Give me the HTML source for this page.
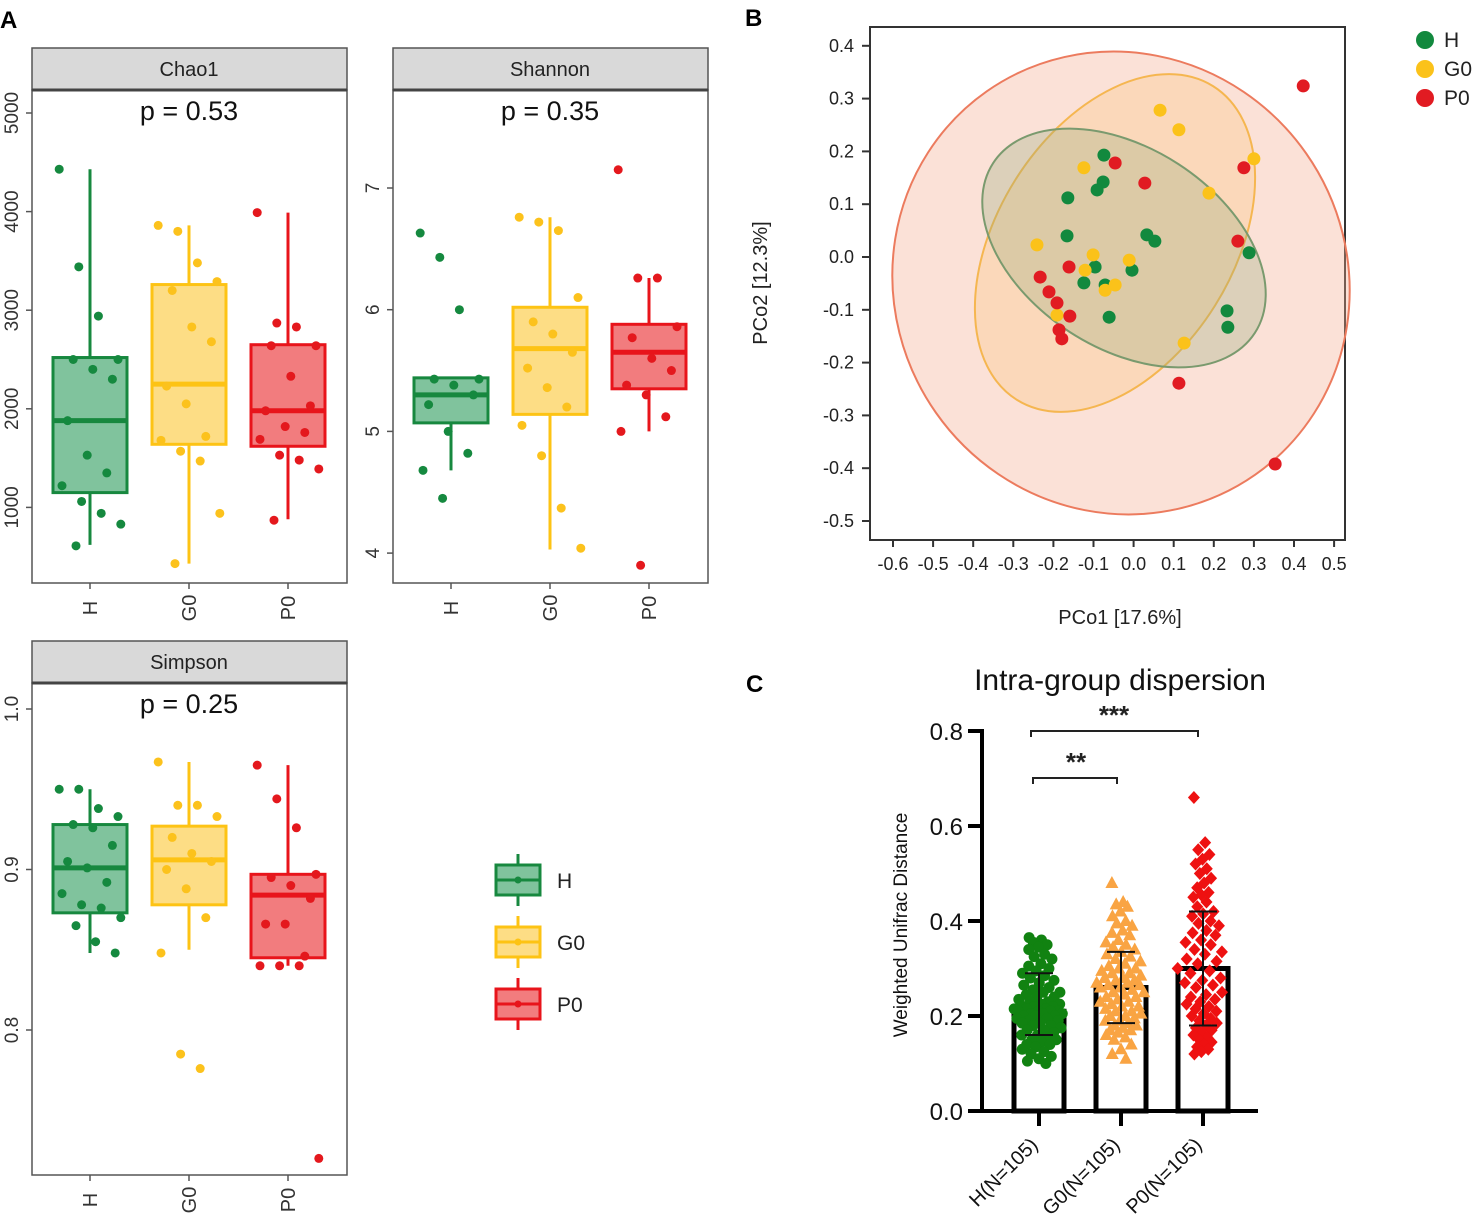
<!DOCTYPE html>
<html><head><meta charset="utf-8">
<style>
html,body{margin:0;padding:0;background:#fff;}
svg{display:block;font-family:"Liberation Sans",Arial,sans-serif;}
</style></head>
<body>
<svg id="fig" width="1476" height="1217" viewBox="0 0 1476 1217" xmlns="http://www.w3.org/2000/svg">
<text x="0" y="28" font-size="24" font-weight="bold">A</text>
<text x="745" y="26" font-size="24" font-weight="bold">B</text>
<text x="746" y="692" font-size="24" font-weight="bold">C</text>
<g id="gA"></g>
<g id="gB"></g>
<g id="gC"></g>
</svg>
<script>
const NS='http://www.w3.org/2000/svg';
function mk(p,t,a,txt){const e=document.createElementNS(NS,t);for(const k in a)e.setAttribute(k,a[k]);if(txt!==undefined)e.textContent=txt;p.appendChild(e);return e;}

// ---------- Panel A data ----------
const groups=['H','G0','P0'];
const chaoStats=[[620,1150,1880,2520,4430],[430,1640,2250,3260,3860],[880,1620,1980,2650,3990]];
const chaoH=[4430,3440,2940,2500,2500,2400,2300,1880,1530,1350,1220,1060,940,830,610];
const chaoG0=[3860,3800,3480,3290,3200,2830,2680,2230,2050,1720,1680,1570,1470,940,430];
const chaoP0=[3990,2870,2830,2640,2640,2330,2030,1980,1820,1760,1690,1530,1480,1390,870];
const shanStats=[[4.68,5.07,5.3,5.44,5.44],[4.03,5.14,5.68,6.02,6.76],[5.0,5.35,5.65,5.88,6.26]];
const shanH=[6.63,6.43,6.0,5.43,5.43,5.38,5.3,5.22,5.0,4.82,4.68,4.45];
const shanG0=[6.76,6.72,6.65,6.1,5.9,5.8,5.65,5.52,5.36,5.2,5.05,4.8,4.37,4.04];
const shanP0=[7.15,6.26,6.26,5.86,5.77,5.6,5.5,5.38,5.3,5.12,5.0,3.9];
const simpStats=[[0.848,0.873,0.901,0.928,0.95],[0.85,0.878,0.906,0.927,0.967],[0.84,0.845,0.884,0.897,0.965]];
const simpH=[0.95,0.95,0.938,0.933,0.928,0.926,0.915,0.905,0.901,0.892,0.885,0.878,0.876,0.87,0.865,0.855,0.848];
const simpG0=[0.967,0.94,0.94,0.933,0.92,0.91,0.905,0.9,0.888,0.87,0.848,0.785,0.776];
const simpP0=[0.965,0.944,0.926,0.897,0.895,0.89,0.882,0.866,0.866,0.846,0.84,0.84,0.84,0.72];
const chaoTicks=[1000,2000,3000,4000,5000];
const shanTicks=[4,5,6,7];
const simpTicks=[0.8,0.9,1.0];

const lineCol=['#17883f','#fdc314','#e8141b'];
const fillCol=['#80c39d','#fddd85','#f27c7e'];
const dotCol=['#15893f','#fcc21c','#e4181d'];

function boxPanel(o){
  const g=mk(document.getElementById('gA'),'g',{});
  
  
  const y=v=>o.yTop+(o.vTop-v)*o.ppu;
  const cx=[o.x0+58,o.x0+157,o.x0+256];
  const strip=mk(g,'rect',{x:o.x0,y:o.sy,width:315,height:42,fill:'#d9d9d9',stroke:'#555','stroke-width':1.5});
  
  
  const st=mk(g,'text',{x:o.x0+157,y:o.sy+28,'font-size':20,'text-anchor':'middle',fill:'#222'},o.title);
  
  
  mk(g,'rect',{x:o.x0,y:o.sy+42,width:315,height:o.bottom-o.sy-42,fill:'none',stroke:'#555','stroke-width':1.5});
  mk(g,'line',{x1:o.x0,x2:o.x0+315,y1:o.sy+42,y2:o.sy+42,stroke:'#444','stroke-width':3});
  const pt=mk(g,'text',{x:o.x0+157,y:o.sy+72,'font-size':27,'text-anchor':'middle',fill:'#111'},o.p);
  
  
  o.ticks.forEach(t=>{
    const yy=y(t);
    mk(g,'line',{x1:o.x0-6,x2:o.x0,y1:yy,y2:yy,stroke:'#555','stroke-width':1.5});
    const tl=mk(g,'text',{x:0,y:0,'font-size':19,'text-anchor':'middle',fill:'#333',transform:`translate(${o.x0-14},${yy}) rotate(-90)`},o.fmt(t));
    
    
  });
  groups.forEach((gr,i)=>{
    const s=o.stats[i],x=cx[i];
    mk(g,'line',{x1:x,x2:x,y1:o.bottom,y2:o.bottom+6,stroke:'#555','stroke-width':1.5});
    const xl=mk(g,'text',{x:0,y:0,'font-size':20,'text-anchor':'middle',fill:'#333',transform:`translate(${x+7},${o.bottom+25}) rotate(-90)`},gr);
    
    
    const bg=mk(g,'g',{});
    
    
    mk(bg,'line',{x1:x,x2:x,y1:y(s[0]),y2:y(s[4]),stroke:lineCol[i],'stroke-width':3});
    mk(bg,'rect',{x:x-37,y:y(s[3]),width:74,height:y(s[1])-y(s[3]),fill:fillCol[i],stroke:lineCol[i],'stroke-width':3});
    mk(bg,'line',{x1:x-37,x2:x+37,y1:y(s[2]),y2:y(s[2]),stroke:lineCol[i],'stroke-width':5});
    o.pts[i].forEach((v,k)=>{
      const off=(((k*53)%23)-11)*2.8;
      const c=mk(bg,'circle',{cx:x+off,cy:y(v),r:4.5,fill:dotCol[i]});
      
      
    });
  });
}
boxPanel({name:'chao1',title:'Chao1',p:'p = 0.53',x0:32,sy:48,bottom:583,yTop:113,vTop:5000,ppu:0.0986,ticks:chaoTicks,fmt:t=>String(t),stats:chaoStats,pts:[chaoH,chaoG0,chaoP0]});
boxPanel({name:'shannon',title:'Shannon',p:'p = 0.35',x0:393,sy:48,bottom:583,yTop:188,vTop:7,ppu:121.7,ticks:shanTicks,fmt:t=>String(t),stats:shanStats,pts:[shanH,shanG0,shanP0]});
boxPanel({name:'simpson',title:'Simpson',p:'p = 0.25',x0:32,sy:641,bottom:1175,yTop:709,vTop:1.0,ppu:1605,ticks:simpTicks,fmt:t=>t.toFixed(1),stats:simpStats,pts:[simpH,simpG0,simpP0]});
// legend A
(function(){
  const gA=document.getElementById('gA');
  const lg=mk(gA,'g',{});
  
  
  groups.forEach((gr,i)=>{
    const cy=880+i*62;
    const e=mk(lg,'g',{});
    
    
    mk(e,'line',{x1:518,x2:518,y1:cy-26,y2:cy+26,stroke:lineCol[i],'stroke-width':3});
    mk(e,'rect',{x:496,y:cy-15,width:44,height:30,fill:fillCol[i],stroke:lineCol[i],'stroke-width':3});
    mk(e,'line',{x1:496,x2:540,y1:cy,y2:cy,stroke:lineCol[i],'stroke-width':3});
    mk(e,'circle',{cx:518,cy:cy,r:3.5,fill:lineCol[i]});
    mk(e,'text',{x:557,y:cy+8,'font-size':21,fill:'#222'},gr);
  });
})();

// ---------- Panel B data ----------
const pcoTicksX=[-0.6,-0.5,-0.4,-0.3,-0.2,-0.1,0.0,0.1,0.2,0.3,0.4,0.5];
const pcoTicksY=[0.4,0.3,0.2,0.1,0.0,-0.1,-0.2,-0.3,-0.4,-0.5];
const hX=[-0.074,-0.076,-0.091,-0.164,-0.166,0.033,0.053,0.288,-0.096,-0.004,-0.124,-0.071,-0.061,0.233,0.235];
const hY=[0.193,0.142,0.127,0.112,0.040,0.042,0.030,0.008,-0.019,-0.025,-0.049,-0.053,-0.114,-0.102,-0.133];
const g0X=[0.066,0.113,0.300,-0.124,0.188,-0.241,-0.101,-0.011,-0.121,-0.046,-0.071,-0.191,0.126];
const g0Y=[0.278,0.241,0.186,0.169,0.121,0.023,0.004,-0.006,-0.025,-0.053,-0.063,-0.110,-0.163];
const p0X=[0.423,-0.046,0.028,0.275,0.260,-0.161,-0.233,-0.211,-0.191,-0.159,-0.186,-0.179,0.113,0.353];
const p0Y=[0.324,0.178,0.140,0.169,0.030,-0.019,-0.038,-0.066,-0.087,-0.112,-0.138,-0.155,-0.239,-0.392];
(function(){
  const g=document.getElementById('gB');
  const X=v=>1133.6+v*401, Y=v=>257-v*528;
  mk(g,'rect',{x:870,y:27,width:475,height:513,fill:'none',stroke:'#333','stroke-width':2});
  const e1=mk(g,'ellipse',{cx:1121,cy:283,rx:226,ry:234,transform:'rotate(-35 1121 283)',fill:'rgba(244,170,140,0.35)',stroke:'#ec7b5e','stroke-width':2});
  
  
  const e2=mk(g,'ellipse',{cx:1115,cy:243,rx:185,ry:118,transform:'rotate(-58 1115 243)',fill:'rgba(252,196,120,0.3)',stroke:'#f5b650','stroke-width':2});
  
  
  const e3=mk(g,'ellipse',{cx:1124,cy:248,rx:156,ry:100,transform:'rotate(33 1124 248)',fill:'rgba(150,170,120,0.3)',stroke:'#7a9a6e','stroke-width':2});
  
  
  pcoTicksY.forEach(t=>{
    mk(g,'line',{x1:862,x2:870,y1:Y(t),y2:Y(t),stroke:'#333','stroke-width':2});
    const tl=mk(g,'text',{x:854,y:Y(t)+6,'font-size':18,'text-anchor':'end',fill:'#222'},t.toFixed(1));
    
    
  });
  pcoTicksX.forEach(t=>{
    mk(g,'line',{x1:X(t),x2:X(t),y1:540,y2:547,stroke:'#333','stroke-width':2});
    const tl=mk(g,'text',{x:X(t),y:570,'font-size':18,'text-anchor':'middle',fill:'#222'},t.toFixed(1));
    
    
  });
  const yt=mk(g,'text',{x:0,y:0,'font-size':20,'text-anchor':'middle',fill:'#222',transform:'translate(767,283) rotate(-90)'},'PCo2 [12.3%]');
  
  
  const xt=mk(g,'text',{x:1120,y:624,'font-size':20,'text-anchor':'middle',fill:'#222'},'PCo1 [17.6%]');
  
  
  const sets=[[hX,hY,'#12893e','h'],[g0X,g0Y,'#fbc21a','g0'],[p0X,p0Y,'#e11b22','p0']];
  sets.forEach(s=>{
    s[0].forEach((v,i)=>{
      const c=mk(g,'circle',{cx:X(v),cy:Y(s[1][i]),r:6.5,fill:s[2]});
      
      
    });
  });
  ['H','G0','P0'].forEach((n,i)=>{
    const e=mk(g,'g',{});
    
    
    mk(e,'circle',{cx:1425,cy:40+i*29,r:9,fill:sets[i][2]});
    mk(e,'text',{x:1444,y:47+i*29,'font-size':21,fill:'#222'},n);
  });
})();

// ---------- Panel C data ----------
const dispCats=['H(N=105)','G0(N=105)','P0(N=105)'];
const dispMeans=[0.21,0.26,0.30];
const dispSdLow=[0.16,0.185,0.18];
const dispSdHigh=[0.29,0.335,0.42];
const dispTicks=[0.0,0.2,0.4,0.6,0.8];
const dispH=[0.365,0.36,0.355,0.35,0.345,0.34,0.33,0.325,0.32,0.31,0.305,0.30,0.295,0.29,0.285,0.28,0.275,0.27,0.265,0.26,0.255,0.25,0.25,0.245,0.24,0.24,0.235,0.23,0.23,0.225,0.225,0.22,0.22,0.22,0.215,0.215,0.215,0.21,0.21,0.21,0.21,0.205,0.205,0.205,0.2,0.2,0.2,0.195,0.195,0.19,0.19,0.185,0.185,0.18,0.18,0.175,0.17,0.17,0.165,0.16,0.16,0.155,0.15,0.15,0.145,0.14,0.14,0.135,0.13,0.125,0.12,0.115,0.11,0.105,0.1];
const dispG0=[0.48,0.44,0.435,0.43,0.42,0.41,0.40,0.395,0.39,0.38,0.375,0.37,0.36,0.355,0.35,0.345,0.34,0.335,0.33,0.325,0.32,0.315,0.31,0.305,0.30,0.30,0.295,0.29,0.29,0.285,0.28,0.28,0.275,0.275,0.27,0.27,0.265,0.265,0.26,0.26,0.255,0.25,0.25,0.245,0.24,0.24,0.235,0.23,0.23,0.225,0.22,0.22,0.215,0.21,0.21,0.205,0.2,0.2,0.195,0.19,0.19,0.185,0.18,0.18,0.175,0.17,0.17,0.165,0.16,0.155,0.15,0.14,0.13,0.12,0.11];
const dispP0=[0.66,0.565,0.55,0.54,0.53,0.52,0.51,0.50,0.49,0.48,0.47,0.46,0.455,0.45,0.44,0.43,0.42,0.415,0.41,0.40,0.395,0.39,0.38,0.375,0.37,0.36,0.355,0.35,0.34,0.335,0.33,0.32,0.315,0.31,0.30,0.295,0.29,0.28,0.275,0.27,0.265,0.26,0.25,0.245,0.24,0.235,0.23,0.225,0.22,0.215,0.21,0.205,0.2,0.195,0.19,0.185,0.18,0.175,0.17,0.165,0.16,0.155,0.15,0.145,0.14,0.135,0.13,0.125,0.12];
(function(){
  const g=document.getElementById('gC');
  const Y=v=>1111-v*475;
  const cx=[1039,1121,1203];
  const t=mk(g,'text',{x:1120,y:690,'font-size':30,'text-anchor':'middle',fill:'#111'},'Intra-group dispersion');
  
  
  const yt=mk(g,'text',{x:0,y:0,'font-size':19,'text-anchor':'middle',fill:'#111',transform:'translate(907,925) rotate(-90)'},'Weighted Unifrac Distance');
  
  
  const sets=[[dispH,'#118211','circ'],[dispG0,'#f9a443','tri'],[dispP0,'#ee1111','dia']];
  dispCats.forEach((c,i)=>{
    const bar=mk(g,'rect',{x:cx[i]-25,y:Y(dispMeans[i]),width:50,height:Y(0)-Y(dispMeans[i]),fill:'#fff',stroke:'#000','stroke-width':5});
    
    
  });
  sets.forEach((s,i)=>{
    const vals=s[0];
    vals.forEach((v,k)=>{
      const m=dispMeans[i];
      const spread=26*Math.max(0.35,1-Math.abs(v-m)/0.25);
      const off=(((k*0.618034)%1)-0.5)*2*spread;
      const x=cx[i]+off,y=Y(v);
      let el;
      if(s[2]==='circ') el=mk(g,'circle',{cx:x,cy:y,r:5.5,fill:s[1]});
      else if(s[2]==='tri') el=mk(g,'polygon',{points:`${x},${y-7} ${x-6.5},${y+5} ${x+6.5},${y+5}`,fill:s[1]});
      else el=mk(g,'polygon',{points:`${x},${y-6.5} ${x+6},${y} ${x},${y+6.5} ${x-6},${y}`,fill:s[1]});
      
      
    });
  });
  dispCats.forEach((c,i)=>{
    const x=cx[i];
    const eb=mk(g,'g',{});
    
    
    mk(eb,'line',{x1:x,x2:x,y1:Y(dispSdLow[i]),y2:Y(dispSdHigh[i]),stroke:'#111','stroke-width':2});
    mk(eb,'line',{x1:x-14,x2:x+14,y1:Y(dispSdLow[i]),y2:Y(dispSdLow[i]),stroke:'#111','stroke-width':2});
    mk(eb,'line',{x1:x-14,x2:x+14,y1:Y(dispSdHigh[i]),y2:Y(dispSdHigh[i]),stroke:'#111','stroke-width':2});
    mk(g,'line',{x1:x,x2:x,y1:1111,y2:1126,stroke:'#000','stroke-width':4});
    const xl=mk(g,'text',{x:0,y:0,'font-size':20,'text-anchor':'end',fill:'#111',transform:`translate(${x},${1146}) rotate(-45)`},c);
    
    
  });
  mk(g,'line',{x1:982,x2:982,y1:729,y2:1113,stroke:'#000','stroke-width':4});
  mk(g,'line',{x1:970,x2:1258,y1:1111,y2:1111,stroke:'#000','stroke-width':4});
  dispTicks.forEach(tk=>{
    mk(g,'line',{x1:968,x2:982,y1:Y(tk),y2:Y(tk),stroke:'#000','stroke-width':4});
    const tl=mk(g,'text',{x:963,y:Y(tk)+9,'font-size':24,'text-anchor':'end',fill:'#111'},tk.toFixed(1));
    
    
  });
  const b1=mk(g,'path',{d:'M1031,737 V731 H1198 V737',fill:'none',stroke:'#222','stroke-width':2});
  
  
  mk(g,'text',{x:1114,y:724,'font-size':26,'font-weight':'bold','text-anchor':'middle',fill:'#222'},'***');
  const b2=mk(g,'path',{d:'M1033,784 V778 H1117 V784',fill:'none',stroke:'#222','stroke-width':2});
  
  
  mk(g,'text',{x:1076,y:771,'font-size':26,'font-weight':'bold','text-anchor':'middle',fill:'#222'},'**');
})();
</script>
</body></html>
